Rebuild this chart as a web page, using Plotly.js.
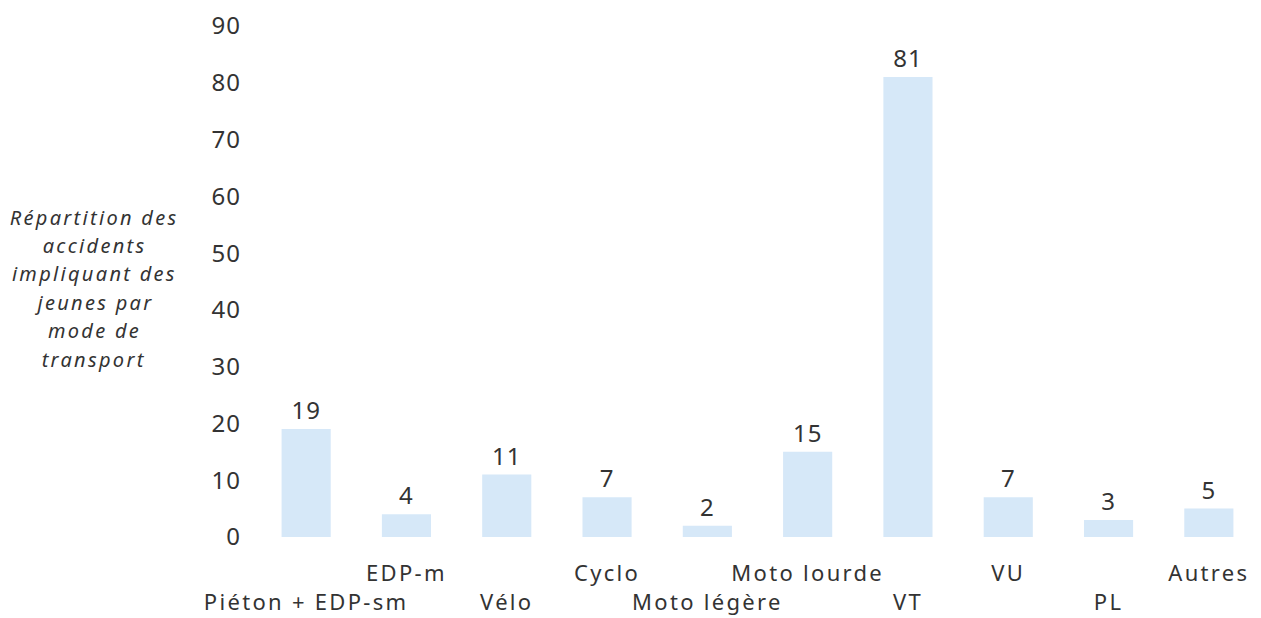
<!DOCTYPE html>
<html><head><meta charset="utf-8">
<script src="https://cdn.plot.ly/plotly-3.0.1.min.js"></script>
<style>
html,body{margin:0;padding:0;background:#fff}
#chart .xtick text{letter-spacing:2.3px}
#chart .ytick text{letter-spacing:1px}
#chart .bartext{letter-spacing:1px}
#chart .annotation-text{letter-spacing:2.3px}
</style>
</head><body>
<div id="chart" style="width:1261px;height:618px"></div>
<script>
const categories = ["Piéton + EDP-sm","EDP-m","Vélo","Cyclo","Moto légère","Moto lourde","VT","VU","PL","Autres"];
const values = [19,4,11,7,2,15,81,7,3,5];
const yTicks = [0,10,20,30,40,50,60,70,80,90];
const yTitleLines = ["Répartition des","accidents","impliquant des","jeunes par","mode de","transport"];

const tickText = categories.map((c,i)=> i%2===0 ? " <br>"+c : c+"<br> ");
const FONT = "'Noto Sans', 'Open Sans', sans-serif";

const trace = {
  type:"bar", x:categories, y:values,
  marker:{color:"#d6e8f8"},
  text:values.map(String), textposition:"outside", cliponaxis:false,
  textfont:{size:24,color:"#333",family:FONT},
  hoverinfo:"none"
};
const plotTop = 26, plotBottom = 537, plotH = plotBottom - plotTop;
const layout = {
  width:1261, height:618,
  margin:{l:256,r:2,t:plotTop,b:618-plotBottom},
  paper_bgcolor:"#fff", plot_bgcolor:"#fff",
  font:{family:FONT,color:"#333",size:22},
  bargap:0.51,
  showlegend:false,
  xaxis:{type:"category",tickvals:categories,ticktext:tickText,tickangle:0,showgrid:false,zeroline:false,showline:false,ticks:"",ticklabelstandoff:21,tickfont:{size:22},automargin:false},
  yaxis:{range:[0,90],tickvals:yTicks,showgrid:false,zeroline:false,showline:false,ticks:"",ticklabelstandoff:14,tickfont:{size:24},automargin:false},
  annotations:yTitleLines.map((t,i)=>({
    xref:"paper",yref:"paper",x:(94-256)/1003,y:(plotBottom-(217+28.4*i))/plotH,xanchor:"center",yanchor:"middle",
    text:"<i>"+t+"</i>",showarrow:false,align:"center",
    font:{size:20,color:"#333",family:FONT}
  }))
};
Plotly.newPlot("chart",[trace],layout,{staticPlot:true,displayModeBar:false});
</script>
</body></html>
